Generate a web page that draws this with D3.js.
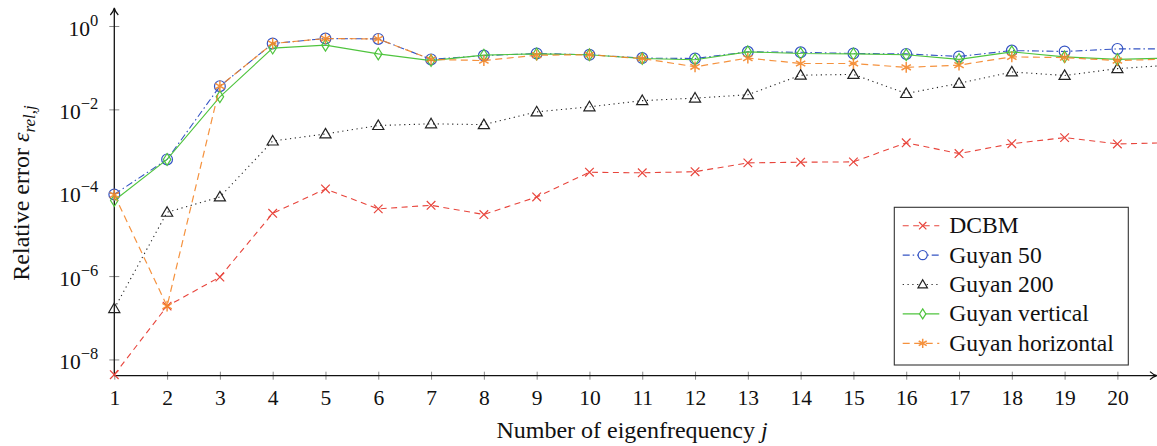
<!DOCTYPE html>
<html>
<head>
<meta charset="utf-8">
<script src="https://cdn.jsdelivr.net/npm/d3@7"></script>
<style>
  html, body { margin: 0; padding: 0; background: #fff; }
  svg { display: block; }
  text { font-family: "Liberation Serif", "DejaVu Serif", serif; fill: #111; }
</style>
</head>
<body>
<svg id="chart" width="1157" height="446"></svg>
<script>
// Eigenfrequency index j
const eigenIndex = [1,2,3,4,5,6,7,8,9,10,11,12,13,14,15,16,17,18,19,20,21];

// Relative error of each reduction method per eigenfrequency
const dcbm = [4.3e-9, 1.9e-7, 9.5e-7, 3.2e-5, 1.23e-4, 4.1e-5, 5.0e-5, 3.0e-5, 7.9e-5, 3.1e-4,
              3.0e-4, 3.2e-4, 5.2e-4, 5.4e-4, 5.5e-4, 1.58e-3, 8.7e-4, 1.5e-3, 2.1e-3, 1.48e-3, 1.58e-3];
const guyan50 = [9.1e-5, 6.3e-4, 3.6e-2, 0.38, 0.50, 0.49, 0.158, 0.195, 0.219, 0.204,
                 0.170, 0.166, 0.240, 0.234, 0.219, 0.214, 0.186, 0.257, 0.245, 0.282, 0.282];
const guyan200 = [1.66e-7, 3.4e-5, 7.9e-5, 1.74e-3, 2.57e-3, 4.1e-3, 4.5e-3, 4.3e-3, 8.7e-3, 1.15e-2,
                  1.62e-2, 1.86e-2, 2.24e-2, 6.6e-2, 6.9e-2, 2.4e-2, 4.2e-2, 7.9e-2, 6.5e-2, 9.5e-2, 0.115];
const guyanVertical = [6.5e-5, 6.3e-4, 2.0e-2, 0.295, 0.347, 0.214, 0.148, 0.200, 0.214, 0.204,
                       0.166, 0.155, 0.240, 0.219, 0.214, 0.204, 0.158, 0.240, 0.182, 0.158, 0.170];
const guyanHorizontal = [8.9e-5, 1.9e-7, 3.6e-2, 0.38, 0.50, 0.49, 0.158, 0.148, 0.200, 0.204,
                         0.166, 0.105, 0.170, 0.126, 0.126, 0.102, 0.115, 0.182, 0.174, 0.148, 0.162];

const seriesNames = ["DCBM", "Guyan 50", "Guyan 200", "Guyan vertical", "Guyan horizontal"];
const xTicks = [1,2,3,4,5,6,7,8,9,10,11,12,13,14,15,16,17,18,19,20];
const yTickExponents = [0, -2, -4, -6, -8];

const svg = d3.select("#chart");

const x = d3.scaleLinear().domain([1, 20.75]).range([114.3, 1157]);
const y = d3.scaleLog().domain([Math.pow(10, -8.39), 1]).range([375.7, 26]);

const x0 = x(1), yBase = y.range()[0];

// marker shapes
const markerPath = {
  cross: r => `M${-r},${-r}L${r},${r}M${-r},${r}L${r},${-r}`,
  circle: r => `M${r},0A${r},${r} 0 1,1 ${-r},0A${r},${r} 0 1,1 ${r},0Z`,
  triangle: r => `M0,${-r * 1.05}L${r * 1.05},${r * 0.75}L${-r * 1.05},${r * 0.75}Z`,
  diamond: r => `M0,${-r * 1.25}L${r * 0.8},0L0,${r * 1.25}L${-r * 0.8},0Z`,
  asterisk: r => {
    let p = "";
    for (let k = 0; k < 3; k++) {
      const a = Math.PI / 2 + k * Math.PI / 3;
      const dx = r * Math.cos(a), dy = r * Math.sin(a);
      p += `M${-dx},${-dy}L${dx},${dy}`;
    }
    return p;
  }
};

const series = [
  { name: seriesNames[0], values: dcbm, color: "#e8453c", dash: "6,4.5", width: 1.1, marker: "cross", size: 4.3, opacity: 1 },
  { name: seriesNames[1], values: guyan50, color: "#3554c4", dash: "7,3,1.5,3", width: 1.1, marker: "circle", size: 5.4, opacity: 1 },
  { name: seriesNames[2], values: guyan200, color: "#222", dash: "1.2,3.6", width: 1.1, marker: "triangle", size: 5.3, opacity: 1 },
  { name: seriesNames[3], values: guyanVertical, color: "#4fc43e", dash: null, width: 1.1, marker: "diamond", size: 4.7, opacity: 1 },
  { name: seriesNames[4], values: guyanHorizontal, color: "#f5872a", dash: "7,4.5", width: 1.2, marker: "asterisk", size: 5.4, opacity: 0.9 }
];

// axes
const gx = svg.append("g").attr("transform", `translate(0,${yBase})`)
  .call(d3.axisBottom(x).tickValues(xTicks).tickSize(4).tickFormat(d => d));
gx.attr("font-family", null);
gx.select(".domain").remove();
gx.selectAll(".tick line").attr("y1", -4).attr("y2", 4).attr("stroke", "#8a8a8a");
gx.selectAll(".tick text")
  .attr("y", 29).attr("dy", 0)
  .style("font-size", "21.5px").attr("fill", "#111");

const gy = svg.append("g").attr("transform", `translate(${x0},0)`)
  .call(d3.axisLeft(y).tickValues(yTickExponents.map(e => Math.pow(10, e))).tickSize(5).tickFormat(""));
gy.attr("font-family", null);
gy.select(".domain").remove();
gy.selectAll(".tick line").attr("x1", -5).attr("x2", 5).attr("stroke", "#8a8a8a");
gy.selectAll(".tick").each(function(d) {
  const e = Math.round(Math.log10(d));
  const t = d3.select(this).append("text")
    .attr("x", -16).attr("y", 9)
    .attr("text-anchor", "end")
    .style("font-size", "21.5px").attr("fill", "#111");
  t.append("tspan").text("10");
  t.append("tspan").attr("dy", -10).style("font-size", "16.5px")
    .text(e === 0 ? "0" : "\u2212" + Math.abs(e));
});

// axis lines with arrow heads
const axisColor = "#111";
svg.append("line").attr("x1", x0).attr("x2", x0).attr("y1", yBase).attr("y2", 9)
  .attr("stroke", axisColor).attr("stroke-width", 1.3);
svg.append("path").attr("d", `M${x0 - 4},${15}Q${x0 - 1},${12} ${x0},${8}Q${x0 + 1},${12} ${x0 + 4},${15}`)
  .attr("fill", "none").attr("stroke", axisColor).attr("stroke-width", 1.2);
svg.append("line").attr("x1", x0).attr("x2", 1156).attr("y1", yBase).attr("y2", yBase)
  .attr("stroke", axisColor).attr("stroke-width", 1.3);
svg.append("path").attr("d", `M1150,${yBase - 4}Q1153,${yBase - 1} 1157,${yBase}Q1153,${yBase + 1} 1150,${yBase + 4}`)
  .attr("fill", "none").attr("stroke", axisColor).attr("stroke-width", 1.2);

// series lines and markers
const line = d3.line().x((d, i) => x(eigenIndex[i])).y(d => y(d));

series.forEach(s => {
  const g = svg.append("g").attr("opacity", s.opacity);
  g.append("path").datum(s.values)
    .attr("d", line)
    .attr("fill", "none")
    .attr("stroke", s.color)
    .attr("stroke-width", s.width)
    .attr("stroke-dasharray", s.dash);
  g.selectAll("path.m").data(s.values).join("path")
    .attr("class", "m")
    .attr("transform", (d, i) => `translate(${x(eigenIndex[i])},${y(d)})`)
    .attr("d", markerPath[s.marker](s.size))
    .attr("fill", "none")
    .attr("stroke", s.color)
    .attr("stroke-width", s.marker === "asterisk" ? 1.5 : 1.2);
});

// axis labels
svg.append("text")
  .attr("x", 632).attr("y", 438)
  .attr("text-anchor", "middle")
  .style("font-size", "24px")
  .html('Number of eigenfrequency <tspan font-style="italic">j</tspan>');

const yl = svg.append("text")
  .attr("transform", "translate(29,193) rotate(-90)")
  .attr("text-anchor", "middle")
  .style("font-size", "24px");
yl.append("tspan").text("Relative error ");
yl.append("tspan").attr("font-style", "italic").text("\u03b5");
yl.append("tspan").attr("font-style", "italic").attr("dy", 6).style("font-size", "17px").text("rel,j");

// legend
const lg = svg.append("g");
lg.append("rect").attr("x", 894.3).attr("y", 207.3).attr("width", 234).attr("height", 157.7)
  .attr("fill", "#fff").attr("stroke", "#333").attr("stroke-width", 1.1);
series.forEach((s, k) => {
  const cy = 225.7 + k * 29.4;
  const row = lg.append("g").attr("opacity", s.opacity);
  row.append("line").attr("x1", 902.7).attr("x2", 939.3).attr("y1", cy).attr("y2", cy)
    .attr("stroke", s.color).attr("stroke-width", s.width).attr("stroke-dasharray", s.dash);
  row.append("path").attr("transform", `translate(922.7,${cy})`)
    .attr("d", markerPath[s.marker](s.size * 0.85))
    .attr("fill", "#fff").attr("stroke", s.color).attr("stroke-width", s.marker === "asterisk" ? 1.5 : 1.2);
  lg.append("text").attr("x", 949.3).attr("y", cy + 7.5)
    .style("font-size", "23.6px").text(s.name);
});
</script>
</body>
</html>
